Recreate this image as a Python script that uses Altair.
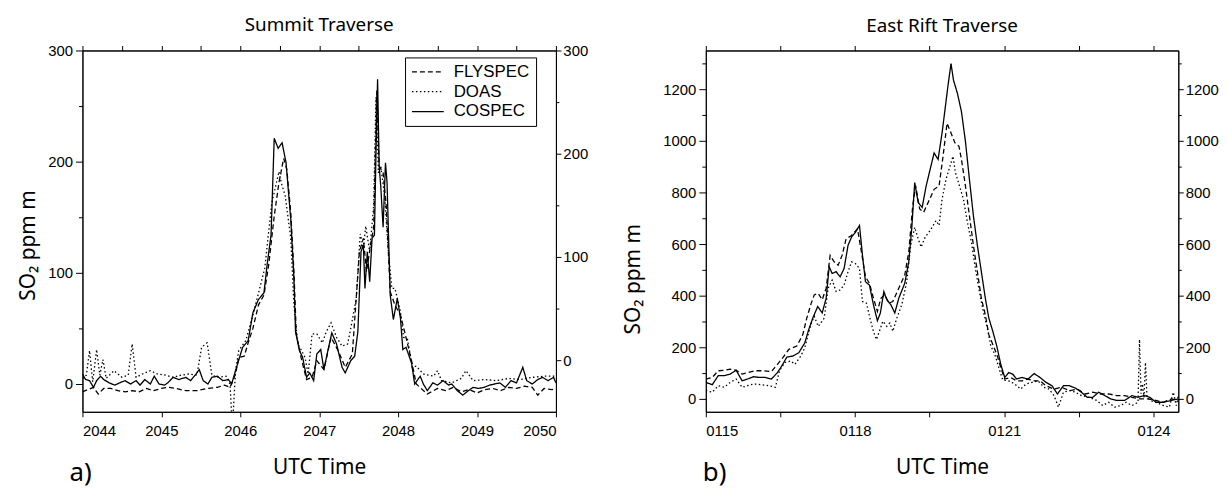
import altair as alt
import pandas as pd

SERIES = ["FLYSPEC", "DOAS", "COSPEC"]

# ---------------- a) Summit Traverse (UTC 20:44 - 20:50, minutes as decimals) ----------------
sum_cospec_t = [2044.00, 2044.04, 2044.09, 2044.14, 2044.18, 2044.23, 2044.27, 2044.34, 2044.41, 2044.47,
                2044.54, 2044.61, 2044.68, 2044.73, 2044.79, 2044.86, 2044.91, 2044.97, 2045.04, 2045.08,
                2045.15, 2045.22, 2045.31, 2045.37, 2045.44, 2045.48, 2045.53, 2045.59, 2045.64, 2045.71,
                2045.78, 2045.85, 2045.89, 2045.94, 2046.03, 2046.10, 2046.16, 2046.23, 2046.30, 2046.34,
                2046.39, 2046.43, 2046.48, 2046.53, 2046.58, 2046.64, 2046.68, 2046.70, 2046.75, 2046.79,
                2046.84, 2046.88, 2046.93, 2046.97, 2047.02, 2047.06, 2047.11, 2047.16, 2047.22, 2047.29,
                2047.33, 2047.40, 2047.45, 2047.49, 2047.53, 2047.56, 2047.58, 2047.61, 2047.64, 2047.67,
                2047.70, 2047.72, 2047.74, 2047.76, 2047.78, 2047.81, 2047.84, 2047.86, 2047.90, 2047.94,
                2047.99, 2048.03, 2048.06, 2048.10, 2048.17, 2048.21, 2048.28, 2048.32, 2048.37, 2048.44,
                2048.50, 2048.57, 2048.64, 2048.68, 2048.75, 2048.82, 2048.89, 2048.95, 2049.02, 2049.09,
                2049.16, 2049.22, 2049.29, 2049.36, 2049.43, 2049.50, 2049.58, 2049.63, 2049.70, 2049.77,
                2049.83, 2049.90, 2049.97, 2050.00]
sum_cospec_v = [9, 4, 3, -3, 3, 7, 4, 1, -1, 1,
                3, 0, 3, -1, 4, 0, 7, 0, -1, 1,
                6, 4, 6, 3, 9, 13, 3, 0, 6, 7,
                3, 4, 0, 12, 33, 39, 64, 76, 82, 107,
                134, 221, 212, 217, 199, 148, 95, 47, 30, 24,
                6, 10, 3, 27, 31, 13, 30, 46, 36, 15,
                10, 21, 25, 47, 119, 125, 86, 119, 92, 131,
                134, 208, 274, 196, 178, 141, 199, 181, 80, 58,
                77, 59, 31, 33, 19, 0, 7, 0, -6, 1,
                -1, 3, -1, 0, -6, -10, -6, -3, -4, -3,
                -1, 0, 1, -3, 3, 1, 15, 3, 0, 4,
                6, 3, 6, 1]

sum_flyspec_t = [2044.00, 2044.07, 2044.14, 2044.20, 2044.27, 2044.36, 2044.45, 2044.54, 2044.63, 2044.72,
                 2044.81, 2044.90, 2045.00, 2045.09, 2045.18, 2045.31, 2045.45, 2045.58, 2045.71, 2045.80,
                 2045.87, 2045.94, 2045.98, 2046.05, 2046.10, 2046.16, 2046.23, 2046.30, 2046.36, 2046.43,
                 2046.49, 2046.55, 2046.59, 2046.64, 2046.68, 2046.71, 2046.77, 2046.84, 2046.91, 2046.97,
                 2047.06, 2047.15, 2047.24, 2047.33, 2047.42, 2047.51, 2047.56, 2047.60, 2047.65, 2047.69,
                 2047.73, 2047.76, 2047.81, 2047.85, 2047.90, 2047.96, 2048.03, 2048.10, 2048.17, 2048.23,
                 2048.37, 2048.50, 2048.60, 2048.70, 2048.80, 2048.90, 2049.00, 2049.10, 2049.20, 2049.30,
                 2049.40, 2049.50, 2049.60, 2049.70, 2049.77, 2049.85, 2049.95, 2050.00]
sum_flyspec_v = [-7, -5, -3, -9, -4, -4, -6, -7, -6, -7,
                 -4, -6, -4, -3, -4, -6, -6, -4, -3, -1,
                 -3, 9, 24, 25, 37, 50, 71, 80, 107, 151,
                 181, 203, 193, 154, 101, 45, 24, 4, 6, 21,
                 13, 42, 30, 15, 27, 119, 131, 101, 125, 140,
                 264, 196, 190, 160, 83, 71, 62, 42, 21, 0,
                 -9, -4, -6, -3, -7, -5, -8, -5, -4, -6,
                 -3, -4, -2, -3, -10, -4, -5, -4]

sum_doas_t = [2044.00, 2044.05, 2044.09, 2044.13, 2044.18, 2044.22, 2044.26, 2044.30, 2044.40, 2044.50,
              2044.58, 2044.63, 2044.68, 2044.76, 2044.86, 2044.95, 2045.05, 2045.15, 2045.25, 2045.35,
              2045.45, 2045.51, 2045.58, 2045.64, 2045.72, 2045.82, 2045.87, 2045.90, 2045.94, 2045.98,
              2046.07, 2046.16, 2046.31, 2046.40, 2046.49, 2046.52, 2046.57, 2046.64, 2046.68, 2046.73,
              2046.77, 2046.82, 2046.86, 2046.91, 2046.97, 2047.04, 2047.09, 2047.15, 2047.22, 2047.29,
              2047.36, 2047.40, 2047.47, 2047.52, 2047.56, 2047.59, 2047.64, 2047.69, 2047.72, 2047.75,
              2047.78, 2047.83, 2047.87, 2047.92, 2047.96, 2048.03, 2048.07, 2048.12, 2048.18, 2048.23,
              2048.32, 2048.45, 2048.50, 2048.55, 2048.68, 2048.80, 2048.86, 2048.95, 2049.10, 2049.25,
              2049.40, 2049.55, 2049.70, 2049.85, 2050.00]
sum_doas_v = [5, 8, 30, 2, 31, 8, 22, 5, 12, 6,
              8, 36, 6, 9, 12, 9, 8, 6, 8, 9,
              8, 33, 37, 8, 6, 7, 0, -40, 12, 30,
              39, 62, 104, 163, 191, 181, 169, 131, 71, 36,
              31, 24, 9, 45, 45, 37, 47, 55, 42, 34,
              36, 50, 77, 135, 122, 142, 119, 160, 258, 190,
              196, 169, 125, 86, 86, 65, 42, 40, 15, 16,
              9, 7, 12, 3, 1, 5, 12, 3, 4, 3,
              5, 4, 6, 7, 7]

# ---------------- b) East Rift Traverse (UTC 01:15 - 01:24.5) ----------------
er_cospec_t = [115.00, 115.13, 115.25, 115.37, 115.49, 115.61, 115.73, 115.84, 115.96, 116.08,
               116.20, 116.32, 116.44, 116.51, 116.63, 116.75, 116.87, 116.99, 117.07, 117.15,
               117.25, 117.34, 117.42, 117.48, 117.54, 117.62, 117.70, 117.78, 117.86, 117.93,
               118.01, 118.09, 118.15, 118.21, 118.29, 118.37, 118.45, 118.51, 118.58, 118.64,
               118.72, 118.80, 118.88, 119.00, 119.08, 119.14, 119.20, 119.27, 119.35, 119.43,
               119.51, 119.59, 119.67, 119.75, 119.80, 119.87, 119.93, 119.98, 120.06, 120.14,
               120.22, 120.30, 120.38, 120.46, 120.54, 120.62, 120.69, 120.77, 120.85, 120.93,
               121.01, 121.09, 121.17, 121.25, 121.36, 121.48, 121.60, 121.72, 121.84, 121.96,
               122.07, 122.19, 122.31, 122.43, 122.55, 122.67, 122.78, 122.90, 123.02, 123.14,
               123.26, 123.42, 123.57, 123.69, 123.81, 123.93, 124.05, 124.20, 124.36, 124.50]
er_cospec_v = [64, 55, 90, 90, 96, 111, 70, 77, 86, 83,
               83, 77, 102, 122, 162, 166, 179, 217, 269, 313,
               358, 333, 390, 512, 486, 493, 473, 505, 595, 627,
               646, 672, 556, 454, 441, 365, 303, 333, 416, 384,
               365, 333, 390, 448, 531, 659, 838, 761, 742, 825,
               889, 953, 928, 1030, 1107, 1215, 1299, 1235, 1183, 1113,
               998, 851, 710, 595, 493, 390, 313, 262, 205, 134,
               83, 102, 96, 77, 83, 77, 98, 83, 64, 51,
               19, 51, 51, 42, 26, 6, 6, 26, 13, 0,
               -6, -6, 13, 6, 13, 6, -13, -13, -6, 0]

er_flyspec_t = [115.00, 115.13, 115.25, 115.37, 115.49, 115.61, 115.73, 115.84, 116.00, 116.16,
                116.32, 116.44, 116.55, 116.67, 116.83, 116.95, 117.03, 117.12, 117.18, 117.26,
                117.34, 117.42, 117.50, 117.58, 117.66, 117.74, 117.82, 117.93, 118.05, 118.13,
                118.21, 118.29, 118.37, 118.45, 118.52, 118.60, 118.68, 118.76, 118.88, 119.00,
                119.08, 119.16, 119.22, 119.30, 119.38, 119.47, 119.59, 119.69, 119.77, 119.85,
                119.93, 120.01, 120.09, 120.14, 120.22, 120.30, 120.38, 120.46, 120.54, 120.62,
                120.69, 120.77, 120.85, 120.93, 121.01, 121.13, 121.25, 121.36, 121.48, 121.60,
                121.72, 121.84, 122.00, 122.15, 122.31, 122.47, 122.63, 122.78, 122.94, 123.10,
                123.26, 123.42, 123.57, 123.73, 123.89, 124.05, 124.20, 124.36, 124.50]
er_flyspec_v = [77, 83, 109, 111, 115, 111, 96, 102, 109, 109,
                106, 134, 160, 192, 205, 249, 313, 371, 403, 409,
                384, 429, 556, 531, 518, 556, 620, 633, 659, 569,
                473, 448, 390, 339, 390, 403, 371, 377, 429, 480,
                569, 748, 825, 736, 723, 761, 812, 825, 940, 1068,
                1030, 992, 979, 928, 825, 710, 595, 493, 390, 326,
                249, 211, 173, 122, 77, 83, 70, 70, 77, 70,
                70, 51, 38, 45, 32, 38, 19, 26, 19, 19,
                13, 13, 6, 0, 0, -6, -13, 0, -6]

er_doas_t = [115.00, 115.13, 115.25, 115.37, 115.49, 115.61, 115.73, 115.84, 115.96, 116.12,
             116.28, 116.40, 116.48, 116.59, 116.71, 116.79, 116.91, 116.99, 117.11, 117.18,
             117.26, 117.38, 117.46, 117.54, 117.62, 117.70, 117.78, 117.86, 117.93, 118.01,
             118.09, 118.15, 118.23, 118.30, 118.37, 118.43, 118.49, 118.56, 118.64, 118.70,
             118.76, 118.84, 118.94, 119.04, 119.12, 119.20, 119.27, 119.33, 119.41, 119.51,
             119.63, 119.69, 119.75, 119.83, 119.91, 119.97, 120.02, 120.10, 120.18, 120.26,
             120.34, 120.42, 120.50, 120.58, 120.66, 120.73, 120.81, 120.89, 120.97, 121.09,
             121.21, 121.33, 121.44, 121.56, 121.68, 121.80, 121.90, 122.00, 122.09, 122.19,
             122.31, 122.43, 122.55, 122.71, 122.86, 122.98, 123.10, 123.22, 123.34, 123.45,
             123.57, 123.69, 123.72, 123.75, 123.78, 123.81, 123.84, 123.87, 123.93, 124.05,
             124.20, 124.32, 124.40, 124.46, 124.50]
er_doas_v = [32, 26, 51, 45, 64, 77, 45, 51, 58, 55,
             51, 45, 109, 141, 147, 134, 166, 198, 288, 320,
             281, 313, 429, 460, 416, 422, 441, 493, 531, 524,
             505, 377, 371, 313, 262, 230, 262, 301, 281, 294,
             262, 313, 365, 454, 595, 665, 620, 588, 627, 652,
             691, 672, 774, 851, 902, 940, 876, 825, 774, 684,
             608, 505, 416, 339, 275, 205, 173, 122, 73, 70,
             58, 38, 58, 64, 70, 45, 38, 13, -32, 26,
             32, 26, 13, 6, -6, -26, -13, -32, -26, -13,
             -26, -13, 230, 20, 58, 6, 141, 10, -6, -13,
             -26, -32, 26, -26, 13]


def long_df(parts):
    rows = []
    for name, ts, vs in parts:
        for t, v in zip(ts, vs):
            rows.append({"t": t, "v": v, "series": name})
    return pd.DataFrame(rows)


summit = long_df([("FLYSPEC", sum_flyspec_t, sum_flyspec_v),
                  ("DOAS", sum_doas_t, sum_doas_v),
                  ("COSPEC", sum_cospec_t, sum_cospec_v)])
eastrift = long_df([("FLYSPEC", er_flyspec_t, er_flyspec_v),
                    ("DOAS", er_doas_t, er_doas_v),
                    ("COSPEC", er_cospec_t, er_cospec_v)])

FT = "Noto Sans"
FL = "Liberation Sans"
H = 364
AX = dict(grid=False, domainColor="black", tickColor="black", labelColor="black",
          labelFont=FL, labelFontSize=15, titleFont=FT, titleFontSize=21,
          titleFontWeight="normal", titleColor="black", domainWidth=1, tickWidth=1)


def panel(df, title, width, xdom, xvals, xlab_test, xfmt,
          ydom, yvals, ymaj_test, y2dom, y2vals, y2maj_test,
          ytitle_pad, ytitle_y, leg_x, leg_y, tag, tag_x):
    xscale = alt.Scale(domain=xdom, nice=False, zero=False)
    lines = alt.Chart(df).mark_line(clip=True, color="black").encode(
        x=alt.X("t:Q", scale=xscale,
                axis=alt.Axis(orient="bottom", values=xvals, format=xfmt,
                              labelExpr=f"{xlab_test} ? datum.label : ''",
                              title="UTC Time", tickSize=5, labelPadding=7,
                              titlePadding=18, **AX)),
        y=alt.Y("v:Q", scale=alt.Scale(domain=ydom, nice=False, zero=False),
                axis=alt.Axis(orient="left", values=yvals, format="d",
                              labelExpr=f"{ymaj_test} ? datum.label : ''",
                              tickSize={"condition": {"test": ymaj_test, "value": 7}, "value": 4},
                              labelPadding=3, title="SO₂ ppm m", titlePadding=ytitle_pad,
                              titleY=ytitle_y, **AX)),
        strokeDash=alt.StrokeDash(
            "series:N",
            scale=alt.Scale(domain=SERIES, range=[[5, 3], [1.5, 2.5], [1, 0]]),
            legend=alt.Legend(title=None, orient="none", legendX=leg_x, legendY=leg_y,
                              symbolType="stroke", symbolSize=1024, clipHeight=17,
                              symbolStrokeWidth=1.4, symbolStrokeColor="black",
                              labelFont=FL, labelFontSize=17, labelColor="black",
                              labelOffset=9,
                              strokeColor="black", fillColor="white",
                              padding=6, rowPadding=2)),
        strokeWidth=alt.StrokeWidth(
            "series:N", scale=alt.Scale(domain=SERIES, range=[1.3, 1.3, 1.7]), legend=None),
    )
    mirror = alt.Chart(df).mark_point(opacity=0, clip=True).encode(
        x=alt.X("t:Q", scale=xscale,
                axis=alt.Axis(orient="top", values=xvals, labels=False, title=None,
                              tickSize=5, **AX)),
        y=alt.Y("v:Q", scale=alt.Scale(domain=y2dom, nice=False, zero=False),
                axis=alt.Axis(orient="right", values=y2vals, format="d",
                              labelExpr=f"{y2maj_test} ? datum.label : ''",
                              tickSize={"condition": {"test": y2maj_test, "value": 5}, "value": 3},
                              labelPadding=2, title=None, **AX)),
    )
    label = alt.Chart(pd.DataFrame({"s": [tag]})).mark_text(
        align="left", baseline="alphabetic", font=FT, fontSize=26, color="black"
    ).encode(text="s:N", x=alt.value(tag_x), y=alt.value(H + 70))
    return alt.layer(lines, mirror, label).resolve_scale(y="independent").resolve_axis(
        x="independent", y="independent"
    ).properties(
        width=width, height=H,
        title=alt.TitleParams(title, font=FT, fontSize=19, fontWeight="normal",
                              color="black", offset=9),
    )


left = panel(summit, "Summit Traverse", 477, [2044, 2050],
             [2044, 2044.5, 2045, 2045.5, 2046, 2046.5, 2047, 2047.5, 2048, 2048.5, 2049, 2049.5, 2050],
             "datum.value % 1 === 0", "d",
             [-25, 300], [0, 50, 100, 150, 200, 250, 300], "datum.value % 100 === 0",
             [-50, 300], [0, 50, 100, 150, 200, 250, 300], "datum.value % 100 === 0",
             9, 196, 325, 7, "a)", -13)

right = panel(eastrift, "East Rift Traverse", 476, [115, 124.5],
              [115, 116.5, 118, 119.5, 121, 122.5, 124],
              "(datum.value - 115) % 3 === 0", "04d",
              [-50, 1350], list(range(0, 1301, 100)), "datum.value % 200 === 0",
              [-50, 1350], list(range(0, 1301, 100)), "datum.value % 200 === 0",
              19, 230, 323, 12, "b)", -3)

chart = alt.hconcat(left, right, spacing=34).properties(
    padding={"left": 9, "top": 5, "right": 0, "bottom": 2},
    background="white",
).configure_view(stroke="black", strokeWidth=1)

chart.save("out.html", embed_options={"renderer": "svg", "actions": False})
